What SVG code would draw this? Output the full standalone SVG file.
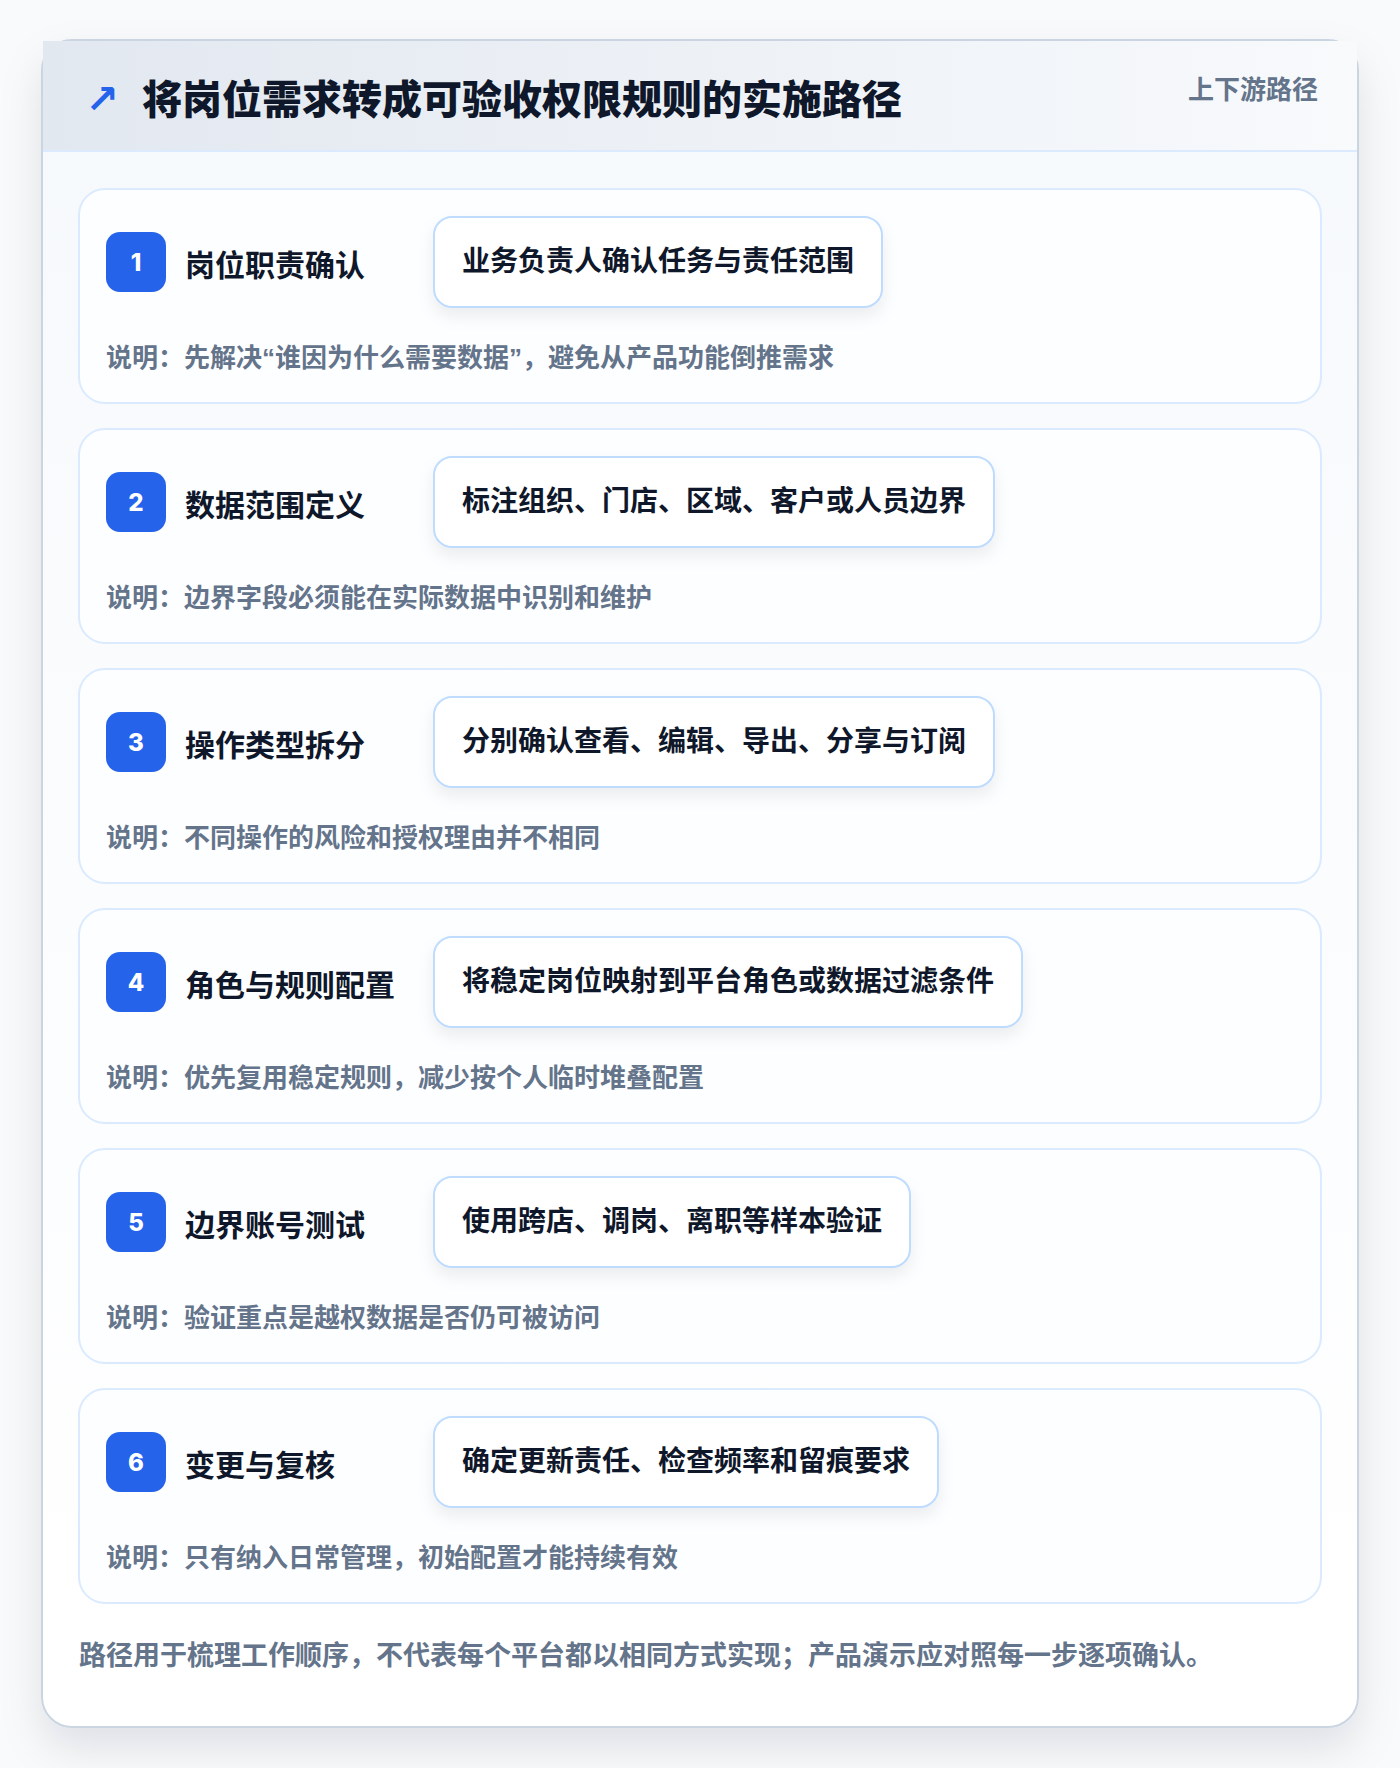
<svg xmlns="http://www.w3.org/2000/svg" width="1400" height="1768" viewBox="0 0 1400 1768">
<defs>
<linearGradient id="hdr" x1="0" y1="0" x2="1" y2="0">
<stop offset="0" stop-color="#e2e8f0"/>
<stop offset="1" stop-color="#f8fafc"/>
</linearGradient>
<linearGradient id="body" x1="0" y1="0" x2="0" y2="1">
<stop offset="0" stop-color="#f6f9fc"/>
<stop offset="1" stop-color="#ffffff"/>
</linearGradient>
<filter id="cardShadow" x="-10%" y="-10%" width="120%" height="125%">
<feDropShadow dx="0" dy="20" stdDeviation="20" flood-color="#0f172a" flood-opacity="0.10"/>
</filter>
<filter id="boxShadow" x="-10%" y="-30%" width="120%" height="180%">
<feDropShadow dx="0" dy="8" stdDeviation="8" flood-color="#0f172a" flood-opacity="0.07"/>
</filter>
</defs>
<style>
text{font-family:"Inter","Noto Sans CJK SC",sans-serif;font-weight:700}
.step{fill:#fdfeff;stroke:#dbeafe;stroke-width:2}
.badge{fill:#2563eb}
.num{fill:#ffffff;font-size:24px;font-weight:800;text-anchor:middle}
.stitle{fill:#0f172a;font-size:30px}
.box{fill:#ffffff;stroke:#bfdbfe;stroke-width:2}
.btext{fill:#0f172a;font-size:28px}
.desc{fill:#64748b;font-size:26px}
.q{font-family:"Liberation Sans",sans-serif}
</style>
<rect width="1400" height="1768" fill="#f9fafb"/>
<g id="card">
<rect x="42" y="40" width="1316" height="1687" rx="30" fill="url(#body)" stroke="#cbd5e1" stroke-width="2" filter="url(#cardShadow)"/>
<rect x="43" y="41" width="1314" height="110" fill="url(#hdr)"/>
<line x1="43" y1="151" x2="1357" y2="151" stroke="#dbeafe" stroke-width="2"/>
<text x="102" y="113" font-size="40" fill="#2563eb" text-anchor="middle" style="font-family:'DejaVu Sans',sans-serif">↗</text>
<text x="142" y="114" font-size="40" fill="#0f172a" style="font-weight:800">将岗位需求转成可验收权限规则的实施路径</text>
<text x="1318" y="99" font-size="26" fill="#64748b" text-anchor="end">上下游路径</text>
</g>
<g id="connectors"></g>
<g id="step1">
<rect class="step" x="79" y="189" width="1242" height="214" rx="26"/>
<rect class="badge" x="106" y="232" width="60" height="60" rx="14"/>
<text class="num" x="136" y="271">1</text>
<text class="stitle" x="185" y="276">岗位职责确认</text>
<rect class="box" x="434" y="217" width="448" height="90" rx="18" filter="url(#boxShadow)"/>
<text class="btext" x="462" y="271">业务负责人确认任务与责任范围</text>
<text class="desc" x="106" y="367">说明：先解决<tspan class="q">“</tspan>谁因为什么需要数据<tspan class="q">”</tspan>，避免从产品功能倒推需求</text>
</g>
<g id="step2">
<rect class="step" x="79" y="429" width="1242" height="214" rx="26"/>
<rect class="badge" x="106" y="472" width="60" height="60" rx="14"/>
<text class="num" x="136" y="511">2</text>
<text class="stitle" x="185" y="516">数据范围定义</text>
<rect class="box" x="434" y="457" width="560" height="90" rx="18" filter="url(#boxShadow)"/>
<text class="btext" x="462" y="511">标注组织、门店、区域、客户或人员边界</text>
<text class="desc" x="106" y="607">说明：边界字段必须能在实际数据中识别和维护</text>
</g>
<g id="step3">
<rect class="step" x="79" y="669" width="1242" height="214" rx="26"/>
<rect class="badge" x="106" y="712" width="60" height="60" rx="14"/>
<text class="num" x="136" y="751">3</text>
<text class="stitle" x="185" y="756">操作类型拆分</text>
<rect class="box" x="434" y="697" width="560" height="90" rx="18" filter="url(#boxShadow)"/>
<text class="btext" x="462" y="751">分别确认查看、编辑、导出、分享与订阅</text>
<text class="desc" x="106" y="847">说明：不同操作的风险和授权理由并不相同</text>
</g>
<g id="step4">
<rect class="step" x="79" y="909" width="1242" height="214" rx="26"/>
<rect class="badge" x="106" y="952" width="60" height="60" rx="14"/>
<text class="num" x="136" y="991">4</text>
<text class="stitle" x="185" y="996">角色与规则配置</text>
<rect class="box" x="434" y="937" width="588" height="90" rx="18" filter="url(#boxShadow)"/>
<text class="btext" x="462" y="991">将稳定岗位映射到平台角色或数据过滤条件</text>
<text class="desc" x="106" y="1087">说明：优先复用稳定规则，减少按个人临时堆叠配置</text>
</g>
<g id="step5">
<rect class="step" x="79" y="1149" width="1242" height="214" rx="26"/>
<rect class="badge" x="106" y="1192" width="60" height="60" rx="14"/>
<text class="num" x="136" y="1231">5</text>
<text class="stitle" x="185" y="1236">边界账号测试</text>
<rect class="box" x="434" y="1177" width="476" height="90" rx="18" filter="url(#boxShadow)"/>
<text class="btext" x="462" y="1231">使用跨店、调岗、离职等样本验证</text>
<text class="desc" x="106" y="1327">说明：验证重点是越权数据是否仍可被访问</text>
</g>
<g id="step6">
<rect class="step" x="79" y="1389" width="1242" height="214" rx="26"/>
<rect class="badge" x="106" y="1432" width="60" height="60" rx="14"/>
<text class="num" x="136" y="1471">6</text>
<text class="stitle" x="185" y="1476">变更与复核</text>
<rect class="box" x="434" y="1417" width="504" height="90" rx="18" filter="url(#boxShadow)"/>
<text class="btext" x="462" y="1471">确定更新责任、检查频率和留痕要求</text>
<text class="desc" x="106" y="1567">说明：只有纳入日常管理，初始配置才能持续有效</text>
</g>
<g id="footer">
<text x="79" y="1665" font-size="27" fill="#64748b">路径用于梳理工作顺序，不代表每个平台都以相同方式实现；产品演示应对照每一步逐项确认。</text>
</g>
</svg>
